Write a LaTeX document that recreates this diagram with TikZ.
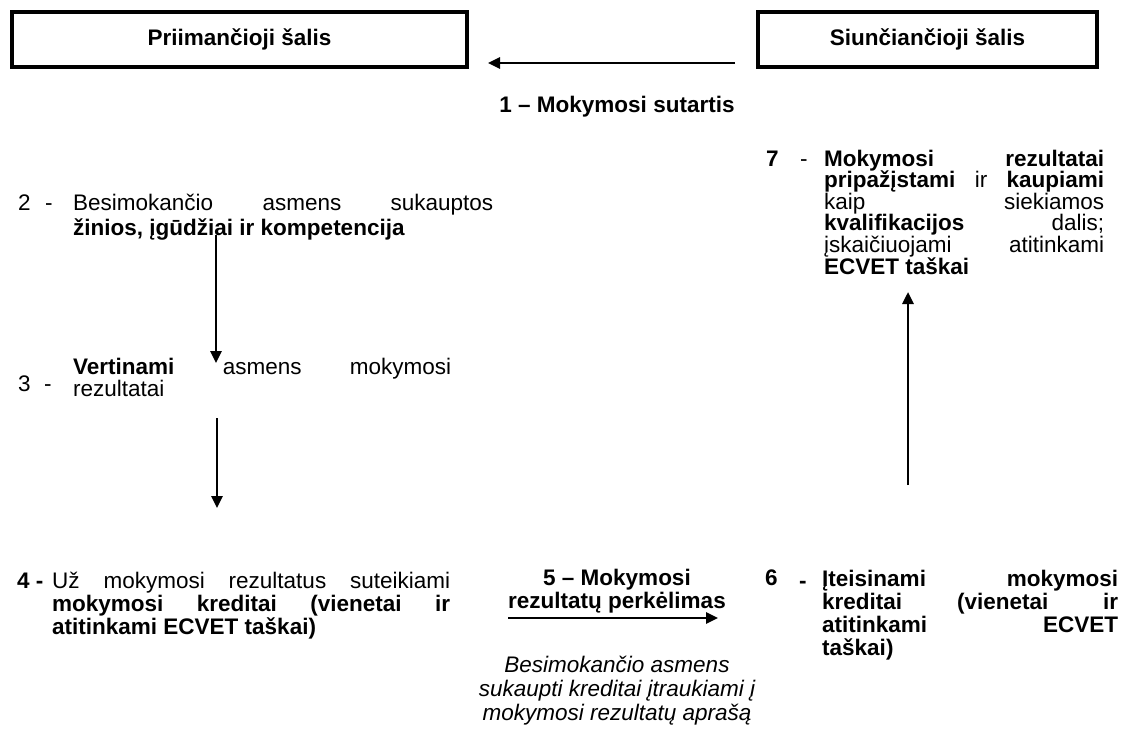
\documentclass[tikz,border=0pt]{standalone}
\usepackage{fontspec}
\setmainfont{Liberation Sans}
\usetikzlibrary{arrows.meta}
\newcommand\fs[1]{\fontsize{22.5}{#1}\selectfont}
\begin{document}
\begin{tikzpicture}[x=1pt,y=-1pt,
  box/.style={draw, line width=4pt, inner sep=0pt, font=\fs{26}\bfseries},
  arr/.style={line width=2.6pt, -{Triangle[length=12pt,width=11pt]}},
  blk/.style={anchor=base west, inner sep=0pt, align=justify},
  num/.style={anchor=base west, inner sep=0pt, font=\fs{26}},
  ctr/.style={anchor=base, inner sep=0pt, align=center},
]
\useasboundingbox (0,0) rectangle (1123,731);

% header boxes
\node[box, minimum width=455pt, minimum height=55pt] (recv) at (239.5,39.5) {Priimančioji šalis};
\node[box, minimum width=339pt, minimum height=55pt] (send) at (927.5,39.5) {Siunčiančioji šalis};

\coordinate (a1s) at (735,63);
\coordinate (a1e) at (488,63);
\draw[arr] (a1s) -- (a1e);
\node[ctr, font=\fs{26}\bfseries] (l1) at (617,112) {1 – Mokymosi sutartis};

% block 2
\node[num] (n2) at (18,210) {2};
\node[num] (d2) at (45,210) {-};
\node[blk, text width=420pt, font=\fs{25}] (b2) at (73,210) {Besimokančio asmens sukauptos\linebreak \textbf{žinios, įgūdžiai ir kompetencija}};

% block 3
\node[num] (n3) at (18,391) {3};
\node[num] (d3) at (44,391) {-};
\node[blk, text width=378pt, font=\fs{22}] (b3) at (73,374) {\textbf{Vertinami} asmens mokymosi\linebreak rezultatai};

% block 4
\node[num, font=\fs{26}\bfseries] (n4) at (17,588) {4 -};
\node[blk, text width=398pt, font=\fs{23}] (b4) at (52,588) {Už mokymosi rezultatus suteikiami\linebreak \textbf{mokymosi kreditai (vienetai ir\linebreak atitinkami ECVET taškai)}};

% block 5
\node[ctr, font=\fs{23}\bfseries] (b5) at (617,608) {5 – Mokymosi\\rezultatų perkėlimas};
\coordinate (a5s) at (508,618);
\coordinate (a5e) at (718,618);
\draw[arr] (a5s) -- (a5e);
\node[ctr, font=\fs{24}\itshape] (b5i) at (617,720) {Besimokančio asmens\\sukaupti kreditai įtraukiami į\\mokymosi rezultatų aprašą};

% block 6
\node[num, font=\fs{26}\bfseries] (n6) at (765,585) {6};
\node[num, font=\fs{26}\bfseries] (d6) at (799,588) {-};
\node[blk, text width=296pt, font=\fs{23}\bfseries] (b6) at (822,586) {Įteisinami mokymosi\linebreak kreditai (vienetai ir\linebreak atitinkami ECVET\linebreak taškai)};

% block 7
\node[num, font=\fs{26}\bfseries] (n7) at (766,166) {7};
\node[num] (d7) at (800,166) {-};
\node[blk, text width=280pt, font=\fs{21.6}] (b7) at (824,166) {\textbf{Mokymosi rezultatai}\linebreak \textbf{pripažįstami} ir \textbf{kaupiami}\linebreak kaip siekiamos\linebreak \textbf{kvalifikacijos} dalis;\linebreak įskaičiuojami atitinkami\linebreak \textbf{ECVET taškai}};

% vertical arrows
\coordinate (a23s) at (216,235);
\coordinate (a23e) at (216,363);
\draw[arr] (a23s) -- (a23e);
\coordinate (a34s) at (217,418);
\coordinate (a34e) at (217,508);
\draw[arr] (a34s) -- (a34e);
\coordinate (a67s) at (908,485);
\coordinate (a67e) at (908,292);
\draw[arr] (a67s) -- (a67e);
\end{tikzpicture}
\end{document}
